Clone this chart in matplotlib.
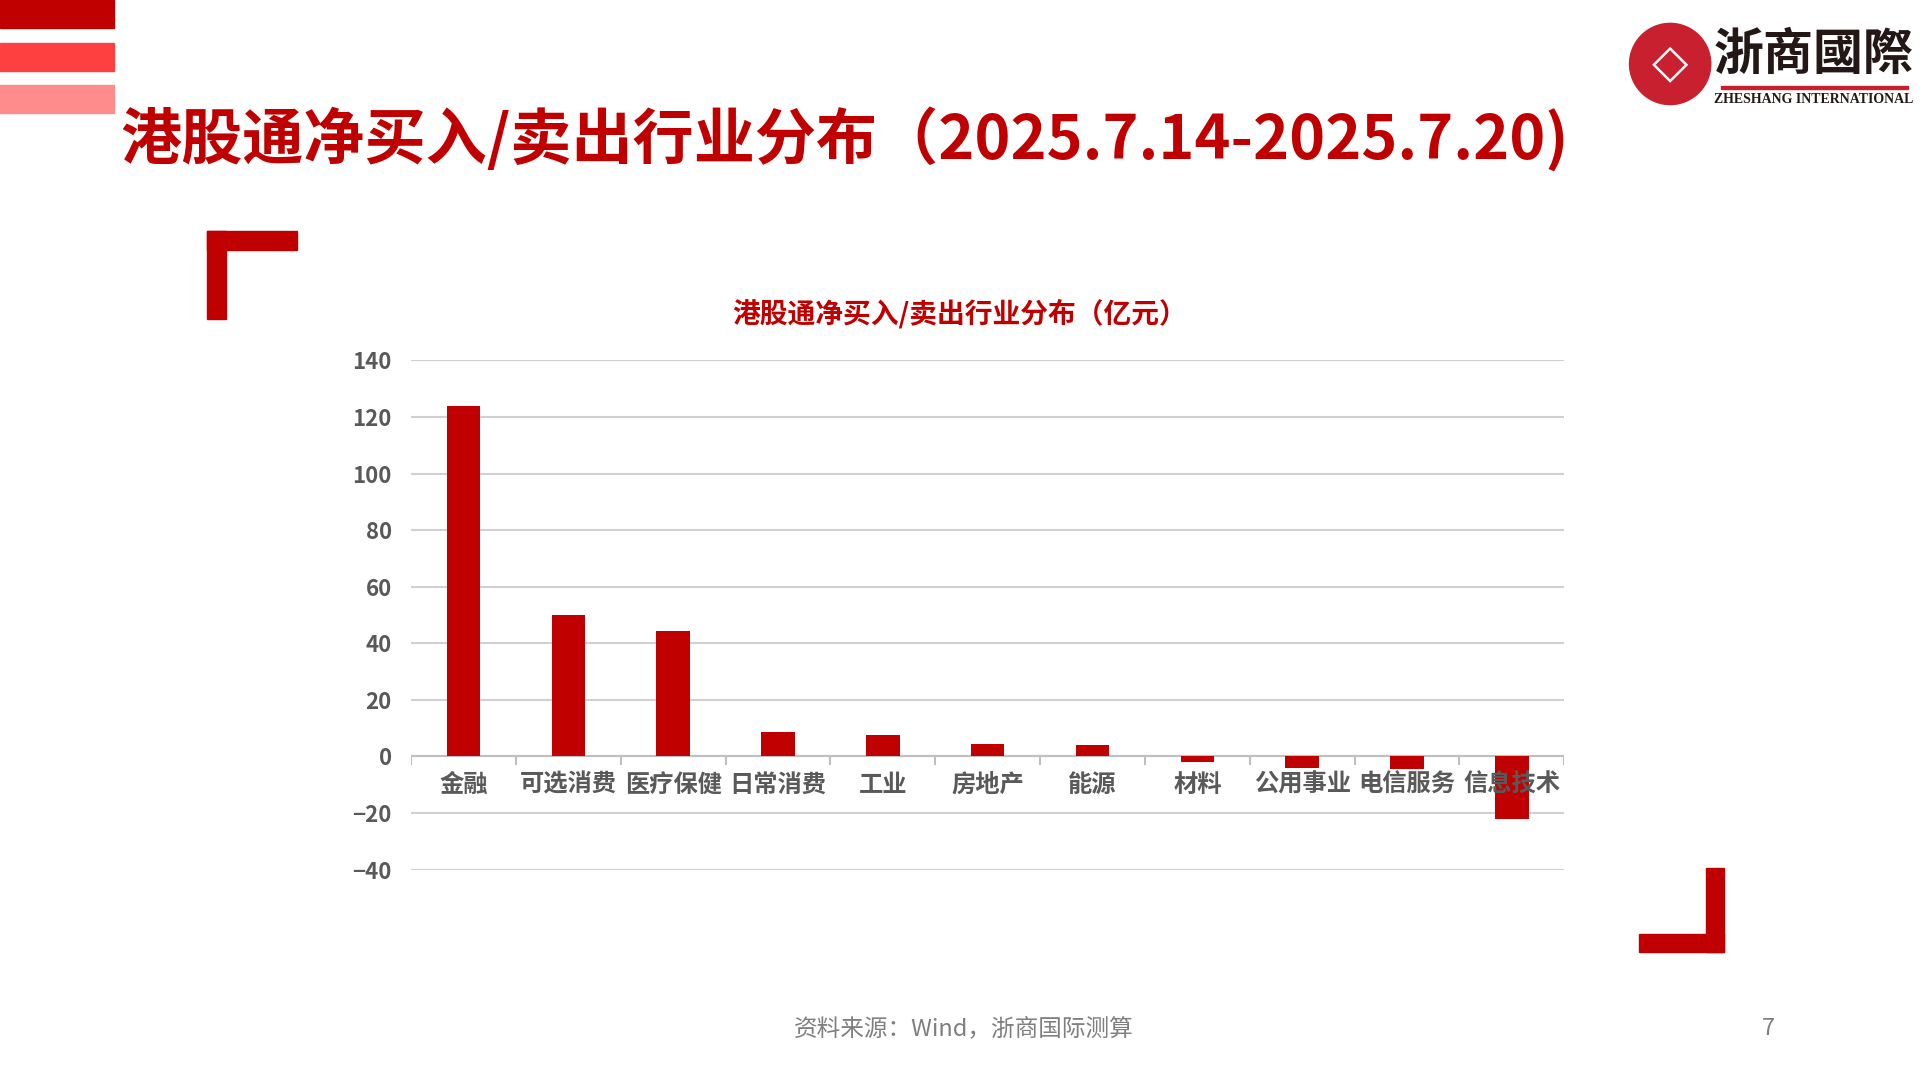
import matplotlib
matplotlib.use("Agg")
import matplotlib.pyplot as plt
from matplotlib.patches import Rectangle, Ellipse

plt.rcParams['font.family'] = ['Noto Sans CJK SC', 'DejaVu Sans']

categories = ["金融", "可选消费", "医疗保健", "日常消费", "工业", "房地产", "能源", "材料", "公用事业", "电信服务", "信息技术"]
values = [124, 50, 44.5, 8.5, 7.5, 4.5, 4, -2, -4, -4.5, -22]
yticks = [-40, -20, 0, 20, 40, 60, 80, 100, 120, 140]

RED = "#C00000"
fig = plt.figure(figsize=(19.2, 10.8), dpi=100)
W, H = 1560, 878
def fx(x): return x / W
def fy(y): return 1 - y / H

for y0, y1, c in [(0, 23, "#C00000"), (35, 58, "#FF4040"), (69, 92, "#FF8C8C")]:
    fig.patches.append(Rectangle((0, fy(y1)), fx(93), fy(y0) - fy(y1), transform=fig.transFigure, color=c))
for (x0, y0, x1, y1) in [(168, 188, 241, 203), (168, 188, 184, 259), (1332, 759, 1401, 774), (1386, 706, 1401, 774)]:
    fig.patches.append(Rectangle((fx(x0), fy(y1)), fx(x1 - x0), fy(y0) - fy(y1), transform=fig.transFigure, color=RED))

fig.text(fx(98), fy(113), "港股通净买入/卖出行业分布（2025.7.14-2025.7.20)", fontsize=44, fontweight='bold', color=RED, va='center', ha='left')

fig.patches.append(Ellipse((fx(1357), fy(52)), 66 / W, 66 / H, transform=fig.transFigure, color="#C8202F"))
fig.text(fx(1357), fy(52), "◇", fontsize=34, color='white', ha='center', va='center', family=['DejaVu Sans'], fontweight='bold')
fig.text(fx(1474), fy(45), "浙商國際", fontsize=36, fontweight='bold', color="#231815", ha='center', va='center', family=['Noto Sans CJK TC', 'DejaVu Sans'])
fig.patches.append(Rectangle((fx(1398), fy(72)), fx(152), 2 / H, transform=fig.transFigure, color="#C8202F"))
fig.text(fx(1474), fy(81), "ZHESHANG INTERNATIONAL", fontsize=10, fontweight='bold', color="#231815", ha='center', va='center', family=['Liberation Serif'])

ax = fig.add_axes([fx(334), fy(707), fx(1271 - 334), fy(293) - fy(707)])
x = list(range(len(categories)))
ax.bar(x, values, width=0.32, color=RED, zorder=3)
ax.set_xlim(-0.5, len(categories) - 0.5)
ax.set_ylim(-40, 140)
ax.set_yticks(yticks)
ax.set_yticklabels([str(v).replace('-', '−') for v in yticks], fontsize=16, color="#595959", fontweight='bold')
ax.grid(axis='y', color="#D0D0D0", linewidth=1.5, zorder=0)
for s in ax.spines.values():
    s.set_visible(False)
ax.tick_params(axis='y', length=0, pad=14)
ax.set_xticks([])
ax.axhline(0, color="#BFBFBF", linewidth=1.5, zorder=2)
for i in range(len(categories) + 1):
    ax.plot([i - 0.5, i - 0.5], [0, -2.5], color="#BFBFBF", linewidth=1.5, zorder=2)
for i, c in enumerate(categories):
    ax.text(i, -10, c, ha='center', va='center', fontsize=17.5, fontweight='bold', color="#595959", zorder=4)

fig.text(0.5, fy(255), "港股通净买入/卖出行业分布（亿元）", fontsize=20, color=RED, ha='center', va='center', fontweight='bold')
fig.text(fx(783), fy(836), "资料来源：Wind，浙商国际测算", fontsize=17, color="#7F7F7F", ha='center', va='center')
fig.text(fx(1437), fy(836), "7", fontsize=17, color="#7F7F7F", ha='center', va='center')

fig.savefig("out.png", dpi=100)
